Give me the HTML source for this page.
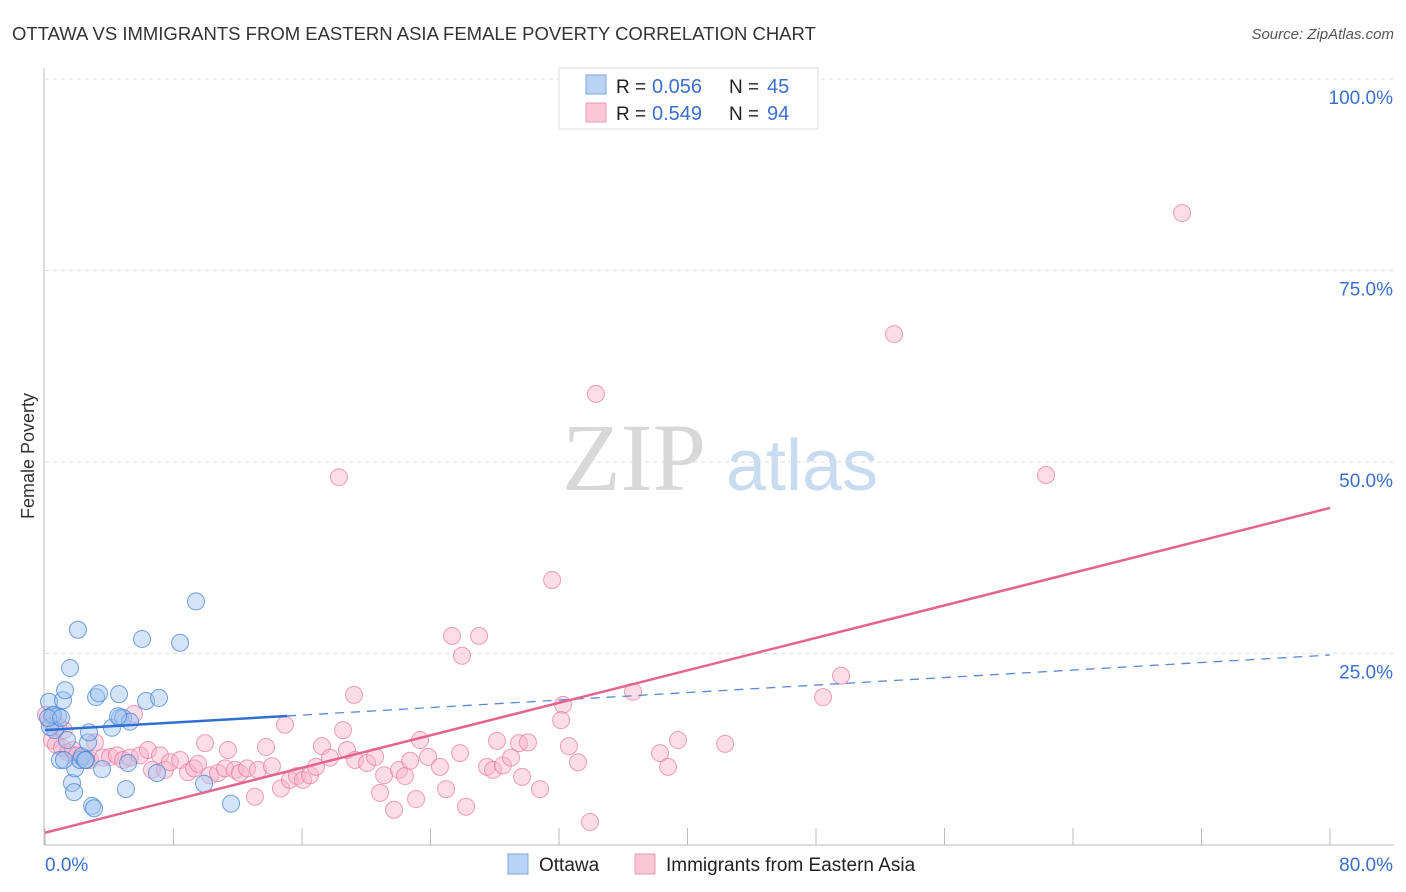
<!DOCTYPE html>
<html><head><meta charset="utf-8"><style>
body{margin:0;background:#fff;font-family:"Liberation Sans",sans-serif;}
#wrap{position:relative;width:1406px;height:892px;overflow:hidden;}
</style></head><body>
<div id="wrap">
<svg id="svg" width="1406" height="892" xmlns="http://www.w3.org/2000/svg">
<text x="12" y="40" font-size="18.5" fill="#333">OTTAWA VS IMMIGRANTS FROM EASTERN ASIA FEMALE POVERTY CORRELATION CHART</text>
<text x="1394" y="39" font-size="15" fill="#555" font-style="italic" text-anchor="end">Source: ZipAtlas.com</text>
<text x="0" y="0" transform="translate(34,456) rotate(-90)" font-size="18" fill="#333" text-anchor="middle">Female Poverty</text>
<g>
<text x="634" y="490" font-size="96" font-family="Liberation Serif,serif" fill="#d8d8d8" text-anchor="middle">ZIP</text>
<text x="802" y="490" font-size="72" fill="#c8dcf0" text-anchor="middle">atlas</text>
</g>
<g id="grid"></g><g id="axes"></g><g id="pts"></g><g id="trend"></g>
<g>
<rect x="559" y="68" width="259" height="61" fill="#fff" stroke="#ddd"/>
<rect x="586" y="75" width="20" height="19" fill="#b9d3f5" stroke="#7ea6e0"/>
<rect x="586" y="103" width="20" height="19" fill="#fbc6d6" stroke="#eb98b3"/>
<text x="616" y="93" font-size="19" fill="#222">R =</text>
<text x="652" y="93" font-size="20" fill="#3a6fd0">0.056</text>
<text x="729" y="93" font-size="19" fill="#222">N =</text>
<text x="767" y="93" font-size="20" fill="#3a6fd0">45</text>
<text x="616" y="120" font-size="19" fill="#222">R =</text>
<text x="652" y="120" font-size="20" fill="#3a6fd0">0.549</text>
<text x="729" y="120" font-size="19" fill="#222">N =</text>
<text x="767" y="120" font-size="20" fill="#3a6fd0">94</text>
</g>
<g>
<rect x="508" y="854" width="20" height="20" fill="#b9d3f5" stroke="#7ea6e0"/>
<text x="539" y="871" font-size="19" fill="#222">Ottawa</text>
<rect x="635" y="854" width="20" height="20" fill="#fbc6d6" stroke="#eb98b3"/>
<text x="666" y="871" font-size="19" fill="#222">Immigrants from Eastern Asia</text>
</g>
</svg>
</div>
<script>
const yTicks=[25,50,75,100];
const yTickLabels=["25.0%","50.0%","75.0%","100.0%"];
const xTicks=[0,8,16,24,32,40,48,56,64,72,80];
const ottawaX=[0.25,0.44,0.62,0.81,0.93,1.12,1.25,1.37,1.56,1.68,1.81,1.87,2.05,2.18,2.30,2.55,2.68,2.74,2.93,3.05,3.18,3.36,3.55,4.17,4.61,4.67,4.86,5.04,5.17,5.29,6.04,6.29,6.97,7.10,8.41,9.40,9.90,11.58,0.31,0.50,0.19,1.00,1.18,2.49,4.55];
const ottawaY=[18.7,16.8,15.0,16.8,11.1,18.9,20.2,13.7,23.1,8.1,6.9,10.0,28.1,11.1,11.6,11.1,13.4,14.7,5.1,4.8,19.3,19.8,9.9,15.3,19.7,16.6,16.6,7.3,10.7,16.1,26.9,18.8,9.4,19.2,26.4,31.8,8.0,5.4,15.4,17.0,16.6,16.6,11.1,11.1,16.8];
const asiaX=[70.79,52.86,34.30,18.30,62.32,31.57,25.34,27.02,25.96,19.24,49.56,48.44,36.61,32.25,32.13,14.94,18.55,5.54,0.25,0.44,0.68,1.06,1.43,1.74,1.99,2.37,2.80,3.11,3.61,4.05,4.48,4.86,5.29,5.91,6.41,6.66,7.16,7.47,7.78,8.41,8.90,9.28,9.53,9.96,10.27,10.77,11.21,11.39,11.83,12.14,12.58,13.26,13.07,13.76,14.13,14.69,15.25,15.69,16.06,16.50,16.87,17.24,17.74,18.80,19.30,20.05,20.55,20.86,21.11,21.73,22.04,22.41,22.73,23.10,23.35,23.85,24.59,24.97,25.84,26.21,27.52,27.89,28.14,28.51,29.01,29.51,29.70,30.07,30.82,32.62,33.18,33.93,38.29,38.79,39.41,42.34,0.06,0.81,1.18];
const asiaY=[82.5,66.7,58.9,48.0,48.3,34.6,27.3,27.3,24.7,19.6,22.1,19.3,20.0,18.3,16.3,15.7,15.0,17.1,16.3,13.7,13.1,12.7,12.1,12.4,11.7,11.4,11.1,13.4,11.4,11.5,11.7,11.1,11.4,11.7,12.4,9.8,11.7,9.8,10.8,11.1,9.5,10.0,10.6,13.3,9.1,9.4,10.0,12.4,9.8,9.4,10.0,9.8,6.3,12.8,10.3,7.4,8.5,9.0,8.5,9.1,10.2,12.9,11.4,12.4,11.1,10.7,11.5,6.8,9.1,4.6,9.8,9.0,11.0,6.0,13.7,11.5,10.2,7.3,12.0,5.0,10.2,9.8,13.6,10.4,11.4,13.3,8.9,13.4,7.3,12.9,10.8,3.0,12.0,10.2,13.7,13.2,17.0,15.5,15.0];
const ottawaTrend=[15.0,24.8];
const ottawaSolidEnd=15.07;
const asiaTrend=[1.6,44.0];
const NS="http://www.w3.org/2000/svg";
const X=v=>45+v/80*1285, Y=v=>845-v/100*766;
function mk(t,a,p){const e=document.createElementNS(NS,t);for(const k in a)e.setAttribute(k,a[k]);p.appendChild(e);return e;}
const grid=document.getElementById('grid'),axes=document.getElementById('axes'),pts=document.getElementById('pts'),tr=document.getElementById('trend');
yTicks.forEach((t,i)=>{
 const l=mk('line',{x1:45,x2:1394,y1:Y(t),y2:Y(t),stroke:'#ddd','stroke-dasharray':'4,4'},grid);
 
 
 const tx=mk('text',{x:1393,y:Y(t)+25,'font-size':19,fill:'#3a6fd0','text-anchor':'end'},axes);
 tx.textContent=yTickLabels[i];
 
 
});
const ax=mk('line',{x1:44,x2:44,y1:68,y2:845,stroke:'#bbb'},axes);


const bx=mk('line',{x1:44,x2:1394,y1:845,y2:845,stroke:'#bbb'},axes);


xTicks.forEach(t=>{
 const l=mk('line',{x1:X(t),x2:X(t),y1:828,y2:845,stroke:'#bbb'},axes);
 
 
});
const xl0=mk('text',{x:45,y:871,'font-size':19,fill:'#3a6fd0'},axes);xl0.textContent='0.0%';


const xl1=mk('text',{x:1393,y:871,'font-size':19,fill:'#3a6fd0','text-anchor':'end'},axes);xl1.textContent='80.0%';


asiaX.forEach((v,i)=>{
 const c=mk('circle',{cx:X(v),cy:Y(asiaY[i]),r:8.5,fill:'rgba(248,180,202,0.45)',stroke:'rgba(232,120,158,0.7)','stroke-width':1},pts);
 
 
});
ottawaX.forEach((v,i)=>{
 const c=mk('circle',{cx:X(v),cy:Y(ottawaY[i]),r:8.5,fill:'rgba(160,196,240,0.45)',stroke:'rgba(70,130,215,0.75)','stroke-width':1},pts);
 
 
});
const oy=x=>ottawaTrend[0]+(ottawaTrend[1]-ottawaTrend[0])*x/80;
const l1=mk('line',{x1:X(0),y1:Y(oy(0)),x2:X(ottawaSolidEnd),y2:Y(oy(ottawaSolidEnd)),stroke:'#2f6fd0','stroke-width':2.5},tr);


const l2=mk('line',{x1:X(ottawaSolidEnd),y1:Y(oy(ottawaSolidEnd)),x2:X(80),y2:Y(oy(80)),stroke:'#5a88d0','stroke-width':1.3,'stroke-dasharray':'9,7'},tr);


const l3=mk('line',{x1:X(0),y1:Y(asiaTrend[0]),x2:X(80),y2:Y(asiaTrend[1]),stroke:'#e4648f','stroke-width':2.5},tr);


</script>
</body></html>
